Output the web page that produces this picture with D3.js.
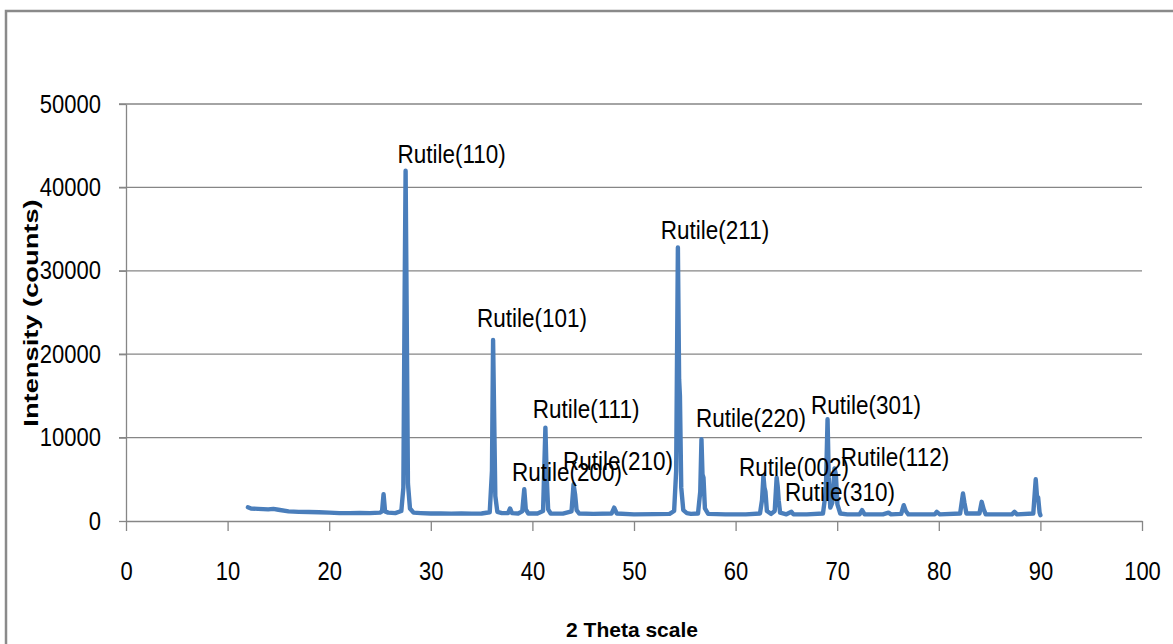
<!DOCTYPE html>
<html>
<head>
<meta charset="utf-8">
<script src="https://cdn.jsdelivr.net/npm/d3@7"></script>
<style>
  body { margin: 0; background: #fff; }
  svg text { font-family: "Liberation Sans", Arial, sans-serif; fill: #000; }
</style>
</head>
<body>
<svg id="chart" width="1173" height="644"></svg>
<script>
// XRD pattern (2 theta in degrees, intensity in counts)
const theta = [
  12.0, 12.3, 13.0, 14.0, 14.5, 15.0, 16.0, 17.0, 18.0, 19.0, 20.0, 21.0, 22.0, 23.0, 24.0,
  25.0, 25.2, 25.35, 25.5, 25.8, 26.5, 27.1, 27.3, 27.43, 27.52, 27.62, 27.75, 27.95, 28.3,
  29.0, 30.0, 31.0, 32.0, 33.0, 34.0, 35.0, 35.8, 36.02, 36.13, 36.23, 36.35, 36.55, 37.0,
  37.6, 37.8, 38.0, 38.6, 39.0, 39.2, 39.35, 39.6, 40.5, 41.05, 41.28, 41.4, 41.55, 41.8,
  43.0, 43.85, 44.05, 44.2, 44.35, 44.6, 46.0, 47.8, 48.05, 48.3, 50.0, 52.0, 53.5, 53.95,
  54.15, 54.32, 54.44, 54.52, 54.65, 54.85, 55.2, 55.6, 56.3, 56.52, 56.64, 56.74, 56.84, 56.98,
  57.3, 59.0, 61.0, 62.4, 62.6, 62.74, 62.84, 62.94, 63.08, 63.5, 63.85, 64.04, 64.14, 64.24,
  64.38, 65.0, 65.5, 65.7, 67.0, 68.6, 68.88, 69.05, 69.17, 69.32, 69.52, 69.74, 69.87, 70.02,
  70.3, 71.0, 72.2, 72.45, 72.7, 74.5, 75.05, 75.3, 76.3, 76.55, 76.75, 77.0, 79.6, 79.8,
  80.1, 82.1, 82.38, 82.52, 82.72, 84.0, 84.22, 84.42, 84.62, 87.2, 87.45, 87.7, 89.3, 89.54,
  89.66, 89.78, 89.92, 90.0
];
const counts = [
  1650, 1500, 1450, 1400, 1450, 1350, 1150, 1100, 1080, 1050, 1000, 950, 950, 980, 950,
  1000, 1150, 3200, 1150, 1000, 950, 1200, 4000, 28000, 42000, 26000, 4500, 1500, 1000,
  950, 900, 900, 880, 900, 880, 900, 1050, 6000, 21700, 13000, 3000, 1100, 950,
  950, 1500, 950, 900, 1150, 3800, 1400, 900, 900, 1200, 11200, 5500, 1400, 900,
  880, 1150, 4400, 3200, 1300, 900, 850, 900, 1600, 900, 800, 820, 850, 1200,
  6000, 32800, 17000, 15000, 4000, 1300, 950, 850, 900, 3500, 9800, 5600, 5200, 1500,
  850, 800, 800, 900, 2500, 5400, 4000, 3500, 1200, 850, 1200, 5200, 4200, 2500,
  1000, 800, 1100, 800, 800, 900, 3500, 12200, 5200, 1600, 2200, 6300, 5600, 2000,
  900, 800, 800, 1300, 800, 800, 1000, 800, 850, 1900, 1200, 800, 800, 1100,
  800, 900, 3300, 2200, 900, 900, 2300, 1400, 800, 800, 1100, 800, 900, 5000,
  3000, 2800, 1000, 700
];

// peak labels and where they sit (2 theta, counts at text baseline)
const peakNames = ["Rutile(110)", "Rutile(101)", "Rutile(111)", "Rutile(200)", "Rutile(210)",
  "Rutile(211)", "Rutile(220)", "Rutile(002)", "Rutile(310)", "Rutile(301)", "Rutile(112)"];
const peakTheta = [32.05, 39.96, 45.28, 43.41, 48.43, 57.97, 61.52, 65.75, 70.28, 72.83, 75.69];
const peakCounts = [42900, 23300, 12350, 4830, 6115, 33810, 11270, 5400, 2400, 12830, 6600];

const xTicks = [0, 10, 20, 30, 40, 50, 60, 70, 80, 90, 100];
const yTicks = [0, 10000, 20000, 30000, 40000, 50000];

const marginLeft = 126, marginTop = 104, plotW = 1016, plotH = 417;
const stretch = 1.18;

let svg = d3.select("#chart");

// outer frame of the chart area
svg.append("rect").attr("x", 6).attr("y", 11).attr("width", 1300).attr("height", 800)
  .attr("fill", "#fff").attr("stroke", "#8a8a8a").attr("stroke-width", 2.5);

let x = d3.scaleLinear().domain([0, 100]).range([0, plotW]);
let y = d3.scaleLinear().domain([0, 50000]).range([plotH, 0]);

let g = svg.append("g").attr("transform", "translate(" + marginLeft + "," + marginTop + ")");

// horizontal gridlines, running out past the axis as the tick marks
g.selectAll("line.grid").data(yTicks.slice(1)).enter().append("line")
  .attr("class", "grid")
  .attr("x1", -7).attr("x2", plotW)
  .attr("y1", d => y(d)).attr("y2", d => y(d))
  .attr("stroke", "#868686").attr("stroke-width", 1.3);

// y axis
let yAxis = g.append("g")
  .call(d3.axisLeft(y).tickValues(yTicks).tickSizeInner(7).tickSizeOuter(0).tickFormat(d3.format("d")));
yAxis.select(".domain").attr("stroke", "#868686").attr("stroke-width", 1.3);
yAxis.selectAll(".tick line").attr("stroke", "#868686").attr("stroke-width", 1.3);
yAxis.selectAll(".tick text")
  .attr("x", 0).attr("dy", null).attr("font-size", 22).attr("text-anchor", "end")
  .attr("transform", "translate(-25,8) scale(1," + stretch + ")");

// x axis
let xAxis = g.append("g").attr("transform", "translate(0," + plotH + ")")
  .call(d3.axisBottom(x).tickValues(xTicks).tickSizeInner(10).tickSizeOuter(0));
xAxis.select(".domain").attr("stroke", "#868686").attr("stroke-width", 1.3);
xAxis.selectAll(".tick line").attr("stroke", "#868686").attr("stroke-width", 1.3);
xAxis.selectAll(".tick text")
  .attr("y", 0).attr("dy", null).attr("font-size", 22)
  .attr("transform", "translate(0,59) scale(1," + stretch + ")");

// the pattern
let line = d3.line().x(d => x(d[0])).y(d => y(d[1]));
g.append("path")
  .datum(d3.zip(theta, counts))
  .attr("d", line)
  .attr("fill", "none")
  .attr("stroke", "#4a7ebb")
  .attr("stroke-width", 4.4)
  .attr("stroke-linejoin", "round")
  .attr("stroke-linecap", "round");

// peak labels
g.selectAll("text.peak").data(d3.range(peakNames.length)).enter().append("text")
  .attr("class", "peak")
  .attr("text-anchor", "middle")
  .attr("font-size", 22.5)
  .attr("transform", i => "translate(" + x(peakTheta[i]) + "," + y(peakCounts[i]) + ") scale(1," + stretch + ")")
  .text(i => peakNames[i]);

// axis titles
svg.append("text")
  .attr("text-anchor", "middle").attr("font-weight", "bold").attr("font-size", 21)
  .attr("transform", "translate(632,637)")
  .text("2 Theta scale");

svg.append("text")
  .attr("text-anchor", "middle").attr("font-weight", "bold").attr("font-size", 21)
  .attr("transform", "translate(37.5,313) rotate(-90) scale(1.3,1)")
  .text("Intensity  (counts)");
</script>
</body>
</html>
